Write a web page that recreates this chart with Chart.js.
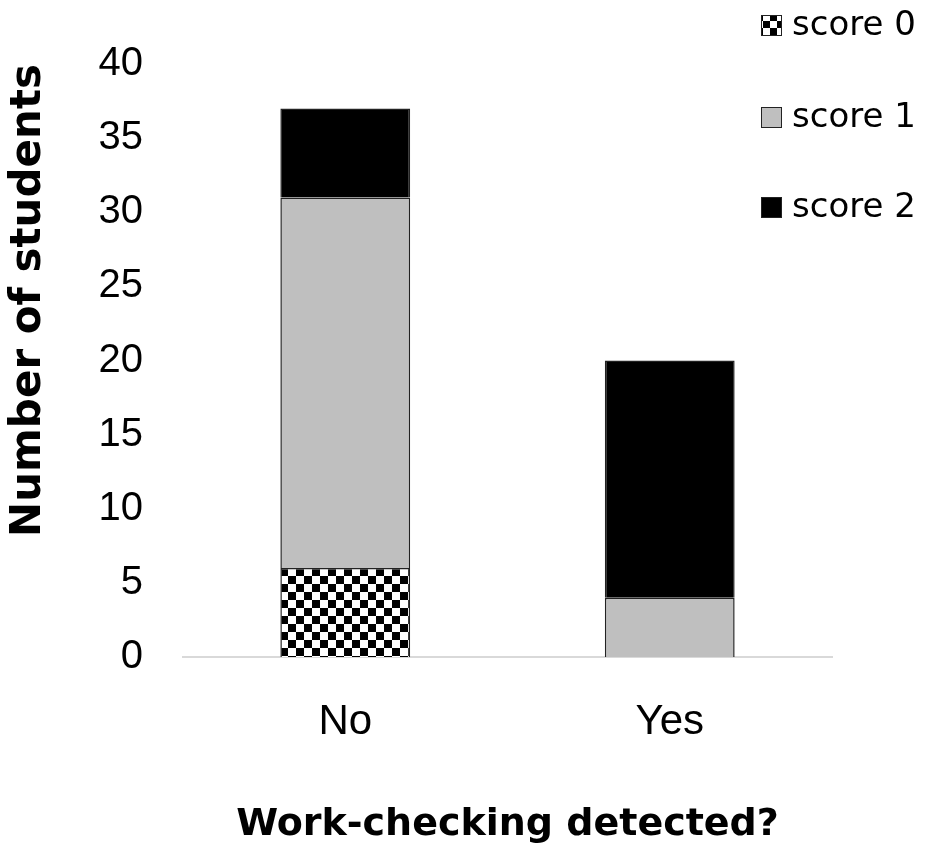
<!DOCTYPE html>
<html>
<head>
<meta charset="utf-8">
<script src="https://cdn.jsdelivr.net/npm/chart.js@4/dist/chart.umd.min.js"></script>
<style>
  html,body{margin:0;padding:0;background:#fff;}
  #wrap{width:946px;height:848px;}
</style>
</head>
<body>
<div id="wrap"><canvas id="myChart" width="946" height="848"></canvas></div>
<script>
// categories on x axis
const categories = ["No", "Yes"];
// stacked series, number of students per score
const score0 = [6, 0];
const score1 = [25, 4];
const score2 = [6, 16];
const seriesNames = ["score 0", "score 1", "score 2"];
// y ticks 0..40 step 5
const yTicks = [0, 5, 10, 15, 20, 25, 30, 35, 40];

const ctx = document.getElementById("myChart").getContext("2d");

// checkerboard fill for score 0
function checker(size){
  const c = document.createElement("canvas");
  c.width = size * 2; c.height = size * 2;
  const g = c.getContext("2d");
  g.fillStyle = "#fff"; g.fillRect(0, 0, size * 2, size * 2);
  g.fillStyle = "#000";
  g.fillRect(0, 0, size, size);
  g.fillRect(size, size, size, size);
  return ctx.createPattern(c, "repeat");
}
const checkFill = checker(8);
const checkSmall = checker(7);

// legend drawn by hand, top right, stacked with big gaps
const sideLegend = {
  id: "sideLegend",
  afterDraw(chart){
    const c = chart.ctx;
    const sets = chart.data.datasets;
    c.save();
    c.font = "34px 'DejaVu Sans'";
    c.textBaseline = "middle";
    c.textAlign = "left";
    const ys = [25, 117, 207];
    sets.forEach((ds, i) => {
      const y = ys[i];
      c.fillStyle = i === 0 ? checkSmall : ds.backgroundColor;
      c.fillRect(761, y - 10, 21, 21);
      c.strokeStyle = "#222";
      c.lineWidth = 1;
      c.strokeRect(761.5, y - 9.5, 20, 20);
      c.fillStyle = "#000";
      c.fillText(ds.label, 792, y + 1);
    });
    c.restore();
  }
};

const data = {
  labels: categories,
  datasets: [
    { label: seriesNames[0], data: score0, backgroundColor: checkFill, borderColor: "#222", borderWidth: 1.5 },
    { label: seriesNames[1], data: score1, backgroundColor: "#bfbfbf", borderColor: "#222", borderWidth: 1.5 },
    { label: seriesNames[2], data: score2, backgroundColor: "#000", borderColor: "#222", borderWidth: 1.5 }
  ]
};

const config = {
  type: "bar",
  data: data,
  plugins: [sideLegend],
  options: {
    responsive: false,
    animation: false,
    categoryPercentage: 1,
    barPercentage: 0.4,
    layout: { padding: { top: 59, right: 114, left: 0, bottom: 0 } },
    plugins: {
      legend: { display: false },
      tooltip: { enabled: false }
    },
    scales: {
      x: {
        stacked: true,
        grid: { display: false, drawTicks: false },
        border: { display: true, color: "#d9d9d9", width: 2 },
        ticks: { color: "#000", padding: 40, font: { family: "'Liberation Sans'", size: 42 } },
        title: {
          display: true,
          text: "Work-checking detected?",
          color: "#000",
          font: { family: "'DejaVu Sans'", size: 38, weight: "bold" },
          padding: { top: 0, bottom: 0 }
        },
        afterFit(scale){ scale.height = 191; }
      },
      y: {
        stacked: true,
        min: 0,
        max: 40,
        grid: { display: false, drawTicks: false },
        border: { display: false },
        afterBuildTicks(scale){ scale.ticks = yTicks.map(v => ({ value: v })); },
        ticks: { color: "#000", padding: 40, font: { family: "'Liberation Sans'", size: 40 } },
        title: {
          display: true,
          text: "Number of students",
          align: "end",
          color: "#000",
          font: { family: "'DejaVu Sans'", size: 42, weight: "bold" },
          padding: { top: 4, bottom: 0 }
        },
        afterFit(scale){ scale.width = 183; }
      }
    }
  }
};

const myChart = new Chart(ctx, config);
</script>
</body>
</html>
